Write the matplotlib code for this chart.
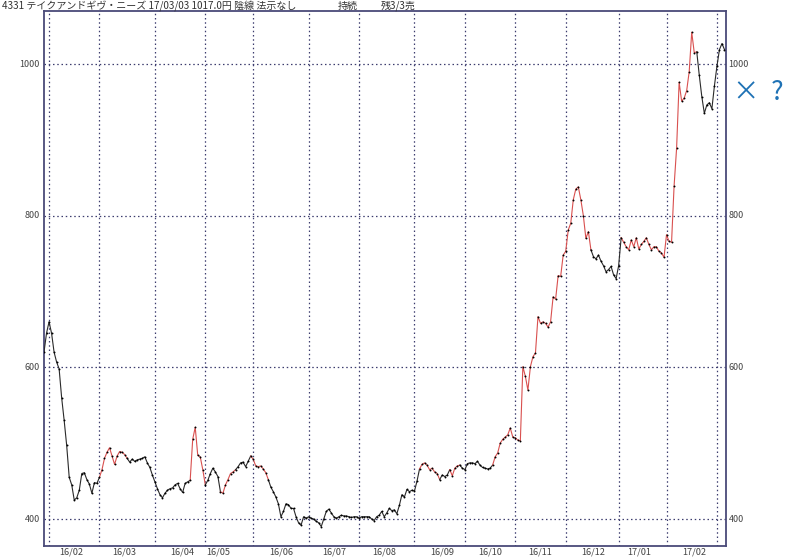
import numpy as np
import matplotlib.pyplot as plt
import matplotlib.transforms as mtransforms

plt.rcParams['font.family'] = ['Noto Sans CJK JP', 'DejaVu Sans']

# daily closes (trading day index 0 .. 270)
close = [
    620, 645, 660, 645, 620, 607, 598, 560, 530, 497, 455, 445, 425, 428, 438, 460, 461, 452, 446, 434, 448, 447,
    455, 465, 480, 488, 494, 483, 472, 483, 489, 488, 485, 480, 475, 479, 476, 478, 479, 480, 482, 474, 468, 458,
    449, 440, 432, 428, 434, 438, 440, 441, 445, 447, 440, 435, 447, 449, 451, 505, 521, 484, 482, 465,
    445, 451, 460, 467, 462, 456, 436, 434, 445, 452, 460, 462, 465, 469, 474, 475, 469, 476, 483,
    479, 470, 469, 470, 466, 461, 452, 442, 436, 429, 420, 403, 410, 420, 419, 414, 414, 403, 395, 392, 403, 401,
    403, 401, 400, 397, 395, 390, 400, 410, 413, 408, 403, 401, 403, 405, 404, 404, 403, 402, 403, 403,
    401, 403, 403, 403, 403, 400, 398, 403, 405, 410, 403, 408, 414, 411, 412, 407, 418, 432, 429, 439, 436, 438,
    437, 450, 466, 472, 474, 471, 465, 467, 462, 460, 452, 458, 456, 458, 465, 457, 467, 470, 471, 467,
    465, 473, 474, 474, 473, 476, 471, 468, 467, 466, 467, 471, 482, 487, 500, 505, 508, 511, 520, 508,
    507, 504, 503, 601, 588, 570, 601, 614, 619, 667, 658, 660, 658, 653, 660, 693, 690, 721, 720, 748,
    753, 781, 790, 821, 835, 838, 821, 800, 770, 779, 755, 746, 743, 748, 740, 734, 726, 729, 733, 722, 717,
    734, 771, 765, 759, 755, 768, 759, 771, 756, 762, 766, 771, 762, 755, 759, 759, 753, 751, 745,
    775, 766, 765, 839, 889, 976, 951, 955, 965, 990, 1042, 1015, 1016, 985, 957, 935, 946, 949, 941, 971,
    997, 1019, 1027, 1019,
]

# stretches drawn in red (start, end day index)
red_runs = [(22, 33), (58, 64), (70, 76), (82, 89), (149, 157), (161, 165), (178, 217), (229, 259)]

# first trading day of each month and mid-month label day
month_start = [2, 22, 44, 64, 83, 105, 125, 147, 167, 187, 207, 228, 247, 267]
label_day = [11, 32, 55, 69, 94, 115, 135, 158, 177, 197, 218, 236, 258]
month_labels = ['16/02', '16/03', '16/04', '16/05', '16/06', '16/07', '16/08',
                '16/09', '16/10', '16/11', '16/12', '17/01', '17/02']

price_ticks = [400, 600, 800, 1000]

title_main = '4331 テイクアンドギヴ・ニーズ 17/03/03 1017.0円 陰線 法示なし'
title_mid = '持続'
title_right = '残3/3売'

#
#
#

fig = plt.figure(figsize=(8, 5.58), dpi=100)
ax = fig.add_axes([0.055, 1 - 546 / 558, 0.8525, (546 - 11) / 558])

x = np.arange(len(close))
y = np.array(close, dtype=float)

is_red = np.zeros(len(close) - 1, dtype=bool)
for a, b in red_runs:
    is_red[a:b] = True

# draw the line in runs of one colour
start = 0
for ii in range(1, len(is_red) + 1):
    if ii == len(is_red) or is_red[ii] != is_red[start]:
        col = '#d9504f' if is_red[start] else '#2a2a2a'
        ax.plot(x[start:ii + 1], y[start:ii + 1], color=col, lw=0.8, zorder=3)
        start = ii

ax.plot(x, y, 'o', ms=1.4, color='black', mec='none', zorder=4)

ax.set_xlim(0, 270.6)
ax.set_ylim(364.4, 1069.9)

grid_col = '#3c3c6e'
for m in month_start:
    ax.axvline(m, color=grid_col, lw=0.9, ls=(0, (1.2, 2.2)), zorder=1)
for p in price_ticks:
    ax.axhline(p, color=grid_col, lw=0.9, ls=(0, (1.2, 2.2)), zorder=1)

for s in ax.spines.values():
    s.set_color('#4a4a78')
    s.set_linewidth(1.3)

ax.set_xticks([])
ax.set_yticks([])

lbl_col = '#444444'
bottom_tr = mtransforms.blended_transform_factory(ax.transData, fig.transFigure)
for d, t in zip(label_day, month_labels):
    ax.text(d, 1 - 551.5 / 558, t, transform=bottom_tr,
            ha='center', va='center', fontsize=6.6, color=lbl_col)

for p in price_ticks:
    ax.text(-0.006, p, str(p), transform=mtransforms.blended_transform_factory(ax.transAxes, ax.transData),
            ha='right', va='center', fontsize=6.5, color=lbl_col)
    ax.text(1.004, p, str(p), transform=mtransforms.blended_transform_factory(ax.transAxes, ax.transData),
            ha='left', va='center', fontsize=6.5, color=lbl_col)

fig.text(2 / 800, 1 - 6 / 558, title_main, ha='left', va='center', fontsize=7.2, color='#333333')
fig.text(338 / 800, 1 - 6 / 558, title_mid, ha='left', va='center', fontsize=7.2, color='#333333')
fig.text(381 / 800, 1 - 6 / 558, title_right, ha='left', va='center', fontsize=7.2, color='#333333')

fig.text(733 / 800, 1 - 93 / 558, '×  ?', ha='left', va='center', fontsize=19, color='#1f72b5')

fig.savefig('out.png', dpi=100, facecolor='white')
